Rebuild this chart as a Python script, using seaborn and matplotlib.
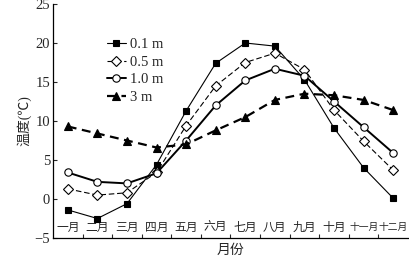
import matplotlib
matplotlib.use("Agg")
import matplotlib.pyplot as plt
import seaborn as sns
import numpy as np
from matplotlib.lines import Line2D

sns.set_style("ticks")
plt.rcParams['font.family'] = ['Liberation Serif', 'Noto Sans CJK SC', 'DejaVu Sans']
plt.rcParams['axes.unicode_minus'] = True

months = [1, 2, 3, 4, 5, 6, 7, 8, 9, 10, 11, 12]
month_labels = ["一月", "二月", "三月", "四月", "五月", "六月",
                "七月", "八月", "九月", "十月", "十一月", "十二月"]
depth_01 = [-1.4, -2.5, -0.6, 4.4, 11.3, 17.4, 20.0, 19.6, 15.3, 9.1, 4.0, 0.1]
depth_05 = [1.3, 0.5, 0.8, 3.4, 9.4, 14.5, 17.5, 18.7, 16.6, 11.4, 7.4, 3.7]
depth_10 = [3.4, 2.2, 2.0, 3.3, 7.5, 12.0, 15.2, 16.7, 15.8, 12.5, 9.2, 5.9]
depth_3 = [9.3, 8.4, 7.5, 6.6, 7.0, 8.8, 10.5, 12.7, 13.5, 13.3, 12.7, 11.4]
series_names = ["0.1 m", "0.5 m", "1.0 m", "3 m"]
y_ticks = [-5, 0, 5, 10, 15, 20, 25]

styles = [
    dict(marker='s', markersize=4.8, markerfacecolor='black', lw=0.8, ls='-'),
    dict(marker='D', markersize=5, markerfacecolor='white', lw=0.8, ls=(0, (5, 2.5))),
    dict(marker='o', markersize=5.3, markerfacecolor='white', lw=1.4, ls='-'),
    dict(marker='^', markersize=6, markerfacecolor='black', lw=1.6, ls=(0, (4, 2.5))),
]

fig = plt.figure(figsize=(4.1, 2.58), dpi=100)
ax = fig.add_axes([53/410, 1 - 238/258, 355/410, 234/258])

handles = []
for vals, name, st in zip([depth_01, depth_05, depth_10, depth_3], series_names, styles):
    sns.lineplot(x=months, y=vals, ax=ax, color='black', markeredgecolor='black',
                 markeredgewidth=0.8, **st)
    handles.append(Line2D([], [], color='black', markeredgecolor='black',
                          markeredgewidth=0.8, label=name, **st))

ax.set_xlim(0.5, 12.5)
ax.set_ylim(-5, 25)
ax.set_yticks(y_ticks)
ax.set_yticklabels([str(v) if v >= 0 else "\u2212" + str(-v) for v in y_ticks], fontsize=10.5)
ax.set_xticks(months)
ax.set_xticklabels(month_labels)
for lab in ax.get_xticklabels():
    lab.set_fontsize(8.5 if len(lab.get_text()) == 2 else 7.0)
    lab.set_verticalalignment('center')
ax.set_xticks(np.arange(1.5, 12.5, 1.0), minor=True)
ax.tick_params(axis='x', which='major', length=0, pad=-7.5)
ax.tick_params(axis='x', which='minor', direction='in', length=3, width=0.8)
ax.tick_params(axis='y', direction='in', length=3, width=0.8, pad=2)
for s in ['top', 'right']:
    ax.spines[s].set_visible(False)
for s in ['left', 'bottom']:
    ax.spines[s].set_linewidth(0.9)
    ax.spines[s].set_color('black')

ax.set_xlabel("月份", fontsize=10, labelpad=1)
ax.set_ylabel("温度(℃)", fontsize=10, labelpad=2)

ax.legend(handles=handles, loc='upper left', bbox_to_anchor=(0.152, 0.855),
          frameon=False, fontsize=10.5, handlelength=1.3, handletextpad=0.25,
          labelspacing=0.3, borderpad=0, borderaxespad=0)

fig.savefig("out.png", dpi=100)
